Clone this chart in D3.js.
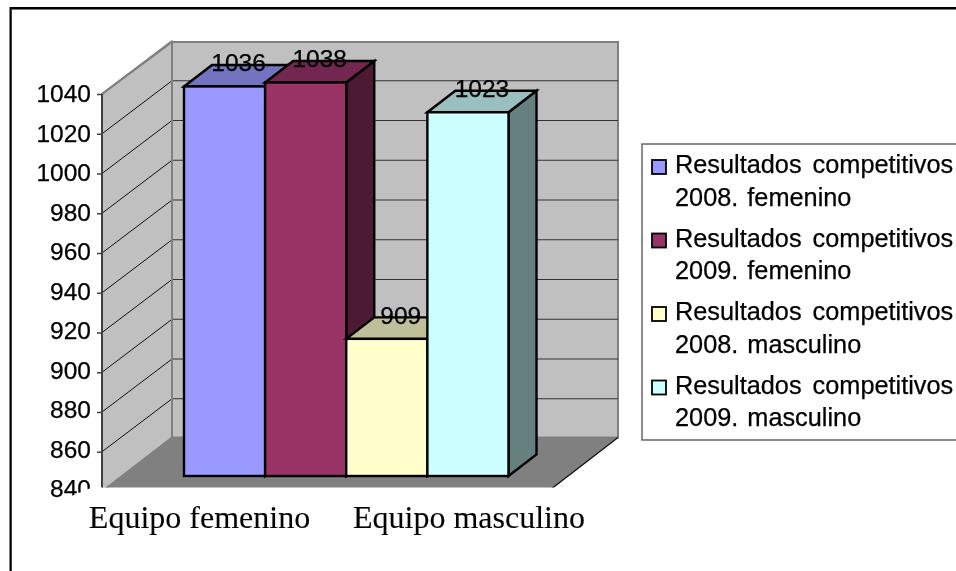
<!DOCTYPE html>
<html>
<head>
<meta charset="utf-8">
<script src="https://cdn.jsdelivr.net/npm/d3@7"></script>
<style>
html, body { margin: 0; padding: 0; background: #fff; overflow: hidden; }
svg { display: block; filter: blur(0.35px); }
text { font-family: "Liberation Sans", Arial, sans-serif; fill: #000; stroke: #000; stroke-width: 0.25px; }
</style>
</head>
<body>
<svg id="chart" width="956" height="571"></svg>
<script>
const categories = ['Equipo femenino', 'Equipo masculino'];
const seriesNames = [
    ['Resultados competitivos', '2008. femenino'],
    ['Resultados competitivos', '2009. femenino'],
    ['Resultados competitivos', '2008. masculino'],
    ['Resultados competitivos', '2009. masculino']
];
const seriesValues = [1036, 1038, 909, 1023];
const seriesColors = ['#9999FF', '#993366', '#FFFFCC', '#CCFFFF'];
const seriesTops = ['#7373BF', '#732650', '#BFBF99', '#99BFBF'];
const seriesSides = ['#4D4D80', '#4D1A33', '#80806A', '#668080'];
const yTicks = [840, 860, 880, 900, 920, 940, 960, 980, 1000, 1020, 1040];

const w = 956;
const h = 571;
const svg = d3.select('#chart');

// depth of the whole box and of the bars
const wallDx = 70, wallDy = -53;
const barDx = 28, barDy = -21.5;
const barOffsetY = -15.5;

const yScale = d3.scaleLinear().domain([840, 1040]).range([491.5, 94]);
// tick labels sit a bit tighter than the ticks in the original
const labelScale = d3.scaleLinear().domain([840, 1040]).range([496.7, 101.7]);
const floorScale = d3.scaleLinear().domain([0, 1]).range([102, 548]);
const barScale = d3.scaleBand().domain(d3.range(seriesValues.length)).range([184, 508.5]);
const catScale = d3.scalePoint().domain(categories).range([199.5, 469]);

const poly = pts => 'M' + pts.map(p => p.join(',')).join('L') + 'Z';
const yTop = yScale(1040), yBot = yScale(840);
const x0 = floorScale(0), x1 = floorScale(1);
const backTop = yTop + wallDy + 1, backBot = yBot + wallDy - 1;

// frame
svg.append('path')
    .attr('d', `M${w},9.5H11.5V${h}`)
    .attr('fill', 'none')
    .attr('stroke', '#777')
    .attr('stroke-width', 1);
svg.append('path')
    .attr('d', `M10.5,${h}V8H${w}`)
    .attr('fill', 'none')
    .attr('stroke', '#000')
    .attr('stroke-width', 2);

// 3d box, clipped where the floor runs out
svg.append('clipPath').attr('id', 'boxClip')
    .append('rect').attr('x', 0).attr('y', 0).attr('width', w).attr('height', 487.5);
const box = svg.append('g').attr('clip-path', 'url(#boxClip)');

box.append('path')
    .attr('d', poly([[x0 + wallDx, backTop], [x1 + wallDx, backTop], [x1 + wallDx, backBot], [x0 + wallDx, backBot]]))
    .attr('fill', '#C0C0C0').attr('stroke', '#808080').attr('stroke-width', 2);
box.append('path')
    .attr('d', poly([[x0, yTop], [x0 + wallDx, backTop], [x0 + wallDx, backBot], [x0, yBot]]))
    .attr('fill', '#C0C0C0').attr('stroke', '#808080').attr('stroke-width', 2);
box.append('path')
    .attr('d', poly([[x0, yBot], [x1, yBot], [x1 + wallDx, backBot], [x0 + wallDx, backBot]]))
    .attr('fill', '#808080');
box.append('line')
    .attr('x1', x1).attr('y1', yBot).attr('x2', x1 + wallDx).attr('y2', backBot)
    .attr('stroke', '#111').attr('stroke-width', 1.3);

// gridlines on both walls
const grid = box.append('g').selectAll('g').data(yTicks.slice(1)).enter().append('g');
grid.append('line')
    .attr('x1', x0).attr('x2', x0 + wallDx)
    .attr('y1', d => yScale(d)).attr('y2', d => yScale(d) + wallDy)
    .attr('stroke', d => d === 1040 ? '#808080' : '#111').attr('stroke-width', d => d === 1040 ? 2 : 1);
grid.filter(d => d !== 1040).append('line')
    .attr('x1', x0 + wallDx).attr('x2', x1 + wallDx)
    .attr('y1', d => yScale(d) + wallDy).attr('y2', d => yScale(d) + wallDy)
    .attr('stroke', '#333').attr('stroke-width', 1.2);

// back edge of the left wall goes over the gridlines
box.append('line')
    .attr('x1', x0 + wallDx).attr('x2', x0 + wallDx)
    .attr('y1', backTop).attr('y2', backBot)
    .attr('stroke', '#808080').attr('stroke-width', 2);

// bars
const barBase = yScale(840) + barOffsetY;
const barTop = v => yScale(v) + barOffsetY;
const bars = svg.append('g').selectAll('g').data(seriesValues).enter().append('g')
    .attr('stroke', '#000').attr('stroke-width', 2.4).attr('stroke-linejoin', 'miter');
bars.append('path')
    .attr('d', (d, i) => {
        const r = barScale(i) + barScale.bandwidth();
        return poly([[r, barTop(d)], [r + barDx, barTop(d) + barDy], [r + barDx, barBase + barDy], [r, barBase]]);
    })
    .attr('fill', (d, i) => seriesSides[i]);
bars.append('path')
    .attr('d', (d, i) => {
        const l = barScale(i), r = l + barScale.bandwidth();
        return poly([[l, barTop(d)], [l + barDx, barTop(d) + barDy], [r + barDx, barTop(d) + barDy], [r, barTop(d)]]);
    })
    .attr('fill', (d, i) => seriesTops[i]);
bars.append('rect')
    .attr('x', (d, i) => barScale(i))
    .attr('y', d => barTop(d))
    .attr('width', barScale.bandwidth())
    .attr('height', d => barBase - barTop(d))
    .attr('fill', (d, i) => seriesColors[i]);

// value labels
svg.append('g').selectAll('text').data(seriesValues).enter().append('text')
    .attr('x', (d, i) => barScale(i) + barScale.bandwidth() / 2 + 14)
    .attr('y', d => barTop(d) - 15)
    .attr('text-anchor', 'middle')
    .attr('font-size', 24.5)
    .text(d => d);

// y axis
const yAxis = d3.axisLeft(yScale).tickValues(yTicks).tickSize(5).tickPadding(6).tickFormat(d3.format('d'));
const yAxisGroup = svg.append('g')
    .attr('transform', `translate(${x0},0)`)
    .call(yAxis);
yAxisGroup.select('.domain').attr('stroke', '#404040').attr('stroke-width', 2).attr('d', `M0,${yTop}V487.5`);
yAxisGroup.selectAll('.tick line').attr('stroke', '#404040').attr('stroke-width', 1.5);
yAxisGroup.selectAll('.tick text')
    .attr('font-size', 24.5)
    .attr('dy', 0)
    .attr('y', d => labelScale(d) - yScale(d))
    .style('font-family', '"Liberation Sans", Arial, sans-serif');

// the bottom label and tick are cut off by the white category area
svg.append('path')
    .attr('d', 'M64,499L92,487.5H102V499Z')
    .attr('fill', '#fff');

// category labels
svg.append('g').selectAll('text').data(categories).enter().append('text')
    .attr('x', d => catScale(d))
    .attr('y', 528)
    .attr('text-anchor', 'middle')
    .attr('font-size', 32)
    .style('font-family', '"Liberation Serif", "Times New Roman", serif')
    .style('stroke-width', '0.1px')
    .text(d => d);

// legend
const legendY = d3.scaleLinear().domain([0, 1]).range([173, 246.5]);
svg.append('path')
    .attr('d', `M${w},144H642V440H${w}`)
    .attr('fill', '#fff').attr('stroke', '#666').attr('stroke-width', 1.5);
const legend = svg.append('g').selectAll('g').data(seriesNames).enter().append('g')
    .attr('transform', (d, i) => `translate(0,${legendY(i)})`);
legend.append('rect')
    .attr('x', 652).attr('y', -13).attr('width', 14).attr('height', 14)
    .attr('fill', (d, i) => seriesColors[i])
    .attr('stroke', '#000').attr('stroke-width', 1.8);
legend.selectAll('text').data(d => d).enter().append('text')
    .attr('x', 675)
    .attr('y', (d, i) => i * 32.7)
    .attr('font-size', 25.3)
    .attr('word-spacing', (d, i) => i === 0 ? 4 : 2)
    .text(d => d);
</script>
</body>
</html>
